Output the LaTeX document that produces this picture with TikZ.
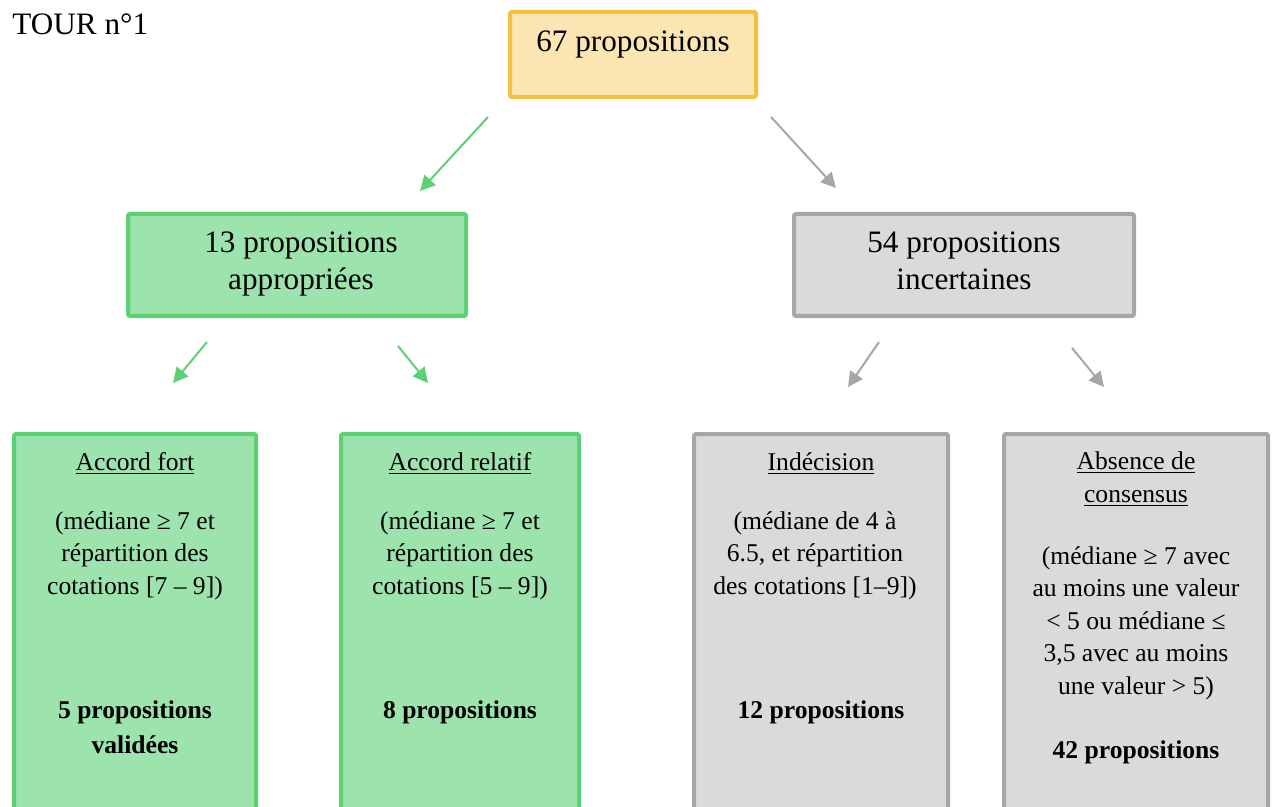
\documentclass[tikz,border=0pt]{standalone}
\usepackage{fontspec}
\setmainfont{Liberation Serif}
\usetikzlibrary{arrows.meta}
\definecolor{jauneligne}{HTML}{F4C042}
\definecolor{jaunefond}{HTML}{FBE5B3}
\definecolor{vertligne}{HTML}{5BD173}
\definecolor{vertfond}{HTML}{9DE3AD}
\definecolor{grisligne}{HTML}{A6A6A6}
\definecolor{grisfond}{HTML}{DADADA}
\tikzset{
  boite/.style={draw, line width=2pt, rounded corners=1pt, inner sep=0pt, outer sep=0pt},
  jaune/.style={boite, draw=jauneligne, fill=jaunefond},
  vert/.style={boite, draw=vertligne, fill=vertfond},
  gris/.style={boite, draw=grisligne, fill=grisfond},
  grand/.style={font=\fontsize{15.6}{18.5}\selectfont, align=center, anchor=base, inner sep=0pt},
  petit/.style={font=\fontsize{12.8}{16.25}\selectfont, align=center, anchor=base, inner sep=0pt},
  gras/.style={font=\fontsize{12.8}{17.5}\selectfont\bfseries, align=center, anchor=base, inner sep=0pt},
  fleche/.style={-{Triangle[length=7.5pt,width=7.5pt]}, line width=1pt},
}
\begin{document}
\begin{tikzpicture}[x=0.5pt, y=-0.5pt]
    \useasboundingbox (0,0) rectangle (1272,807);
    \clip (0,0) rectangle (1272,807);
    % Tour 1 (base = derniere ligne du texte)
    \node[grand, anchor=base west] (tour) at (12,35) {TOUR n°1};
    \node[jaune, minimum width=123pt, minimum height=42.5pt] (total) at (633,54.5) {};
    \node[grand] (totaltxt) at (633,52) {67 propositions};
    % Niveau 2
    \node[vert, minimum width=169pt, minimum height=51pt] (appr) at (297,265) {};
    \node[grand] (apprtxt) at (301,290) {13 propositions\\appropriées};
    \node[gris, minimum width=170pt, minimum height=51pt] (inc) at (964,265) {};
    \node[grand] (inctxt) at (964,290) {54 propositions\\incertaines};
    % Niveau 3
    \node[vert, minimum width=121pt, minimum height=200pt] (fort) at (135,634) {};
    \node[petit] (forttitre) at (135,470) {\underline{Accord fort}};
    \node[petit] (forttxt) at (135,594) {(médiane ≥ 7 et\\répartition des\\cotations [7 – 9])};
    \node[gras] (fortnb) at (135,753) {5 propositions\\validées};
    \node[vert, minimum width=119pt, minimum height=200pt] (rel) at (460,634) {};
    \node[petit] (reltitre) at (460,470) {\underline{Accord relatif}};
    \node[petit] (reltxt) at (460,594) {(médiane ≥ 7 et\\répartition des\\cotations [5 – 9])};
    \node[gras] (relnb) at (460,718) {8 propositions};
    \node[gris, minimum width=127pt, minimum height=200pt] (indec) at (821,634) {};
    \node[petit] (indectitre) at (821,470) {\underline{Indécision}};
    \node[petit] (indectxt) at (815,594) {(médiane de 4 à\\6.5, et répartition\\des cotations [1–9])};
    \node[gras] (indecnb) at (821,718) {12 propositions};
    \node[gris, minimum width=132pt, minimum height=200pt] (abs) at (1136,634) {};
    \node[petit] (abstitre) at (1136,502) {\underline{Absence de}\\\underline{consensus}};
    \node[petit] (abstxt) at (1136,694) {(médiane ≥ 7 avec\\au moins une valeur\\< 5 ou médiane ≤\\3,5 avec au moins\\une valeur > 5)};
    \node[gras] (absnb) at (1136,758) {42 propositions};
    % Fleches
    \coordinate (f1a) at (488,117); \coordinate (f1b) at (420,191);
    \coordinate (f2a) at (771,117); \coordinate (f2b) at (836,188);
    \coordinate (f3a) at (207,342); \coordinate (f3b) at (173,383);
    \coordinate (f4a) at (398,346); \coordinate (f4b) at (428,383);
    \coordinate (f5a) at (879,342); \coordinate (f5b) at (848,387);
    \coordinate (f6a) at (1072,348); \coordinate (f6b) at (1104,387);
    \draw[fleche, vertligne] (f1a) -- (f1b);
    \draw[fleche, grisligne] (f2a) -- (f2b);
    \draw[fleche, vertligne] (f3a) -- (f3b);
    \draw[fleche, vertligne] (f4a) -- (f4b);
    \draw[fleche, grisligne] (f5a) -- (f5b);
    \draw[fleche, grisligne] (f6a) -- (f6b);
\end{tikzpicture}
\end{document}
